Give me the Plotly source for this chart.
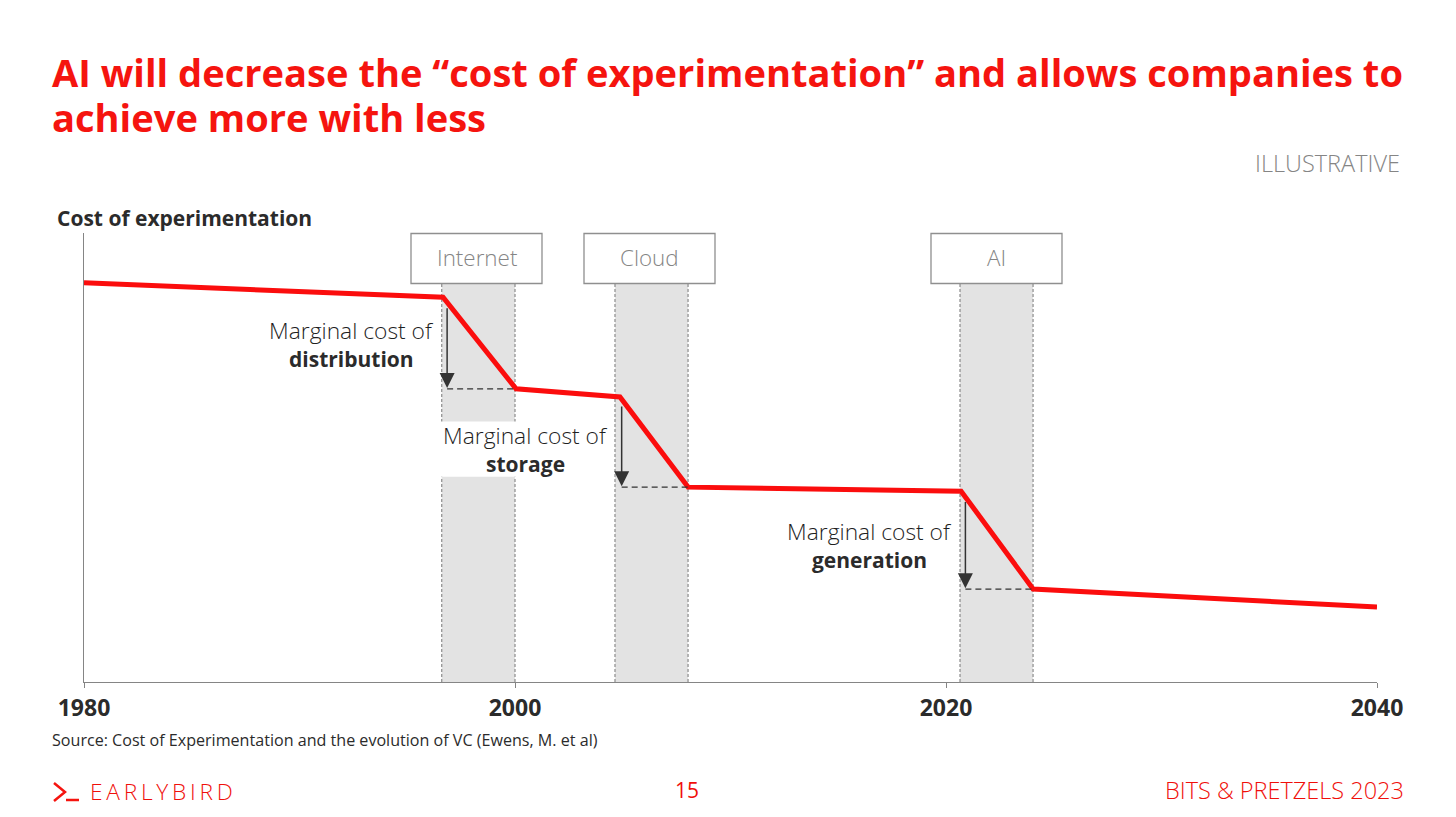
import plotly.graph_objects as go

# --- data ---
years = [1980, 1996.66, 2000.05, 2004.87, 2008.03, 2020.7, 2024.04, 2040]
cost = [88.9, 85.7, 65.3, 63.5, 43.4, 42.5, 20.7, 16.7]
tech_names = ["Internet", "Cloud", "AI"]
band_start = [1996.6, 2004.64, 2020.65]
band_end = [2000.0, 2008.03, 2024.04]
drop_top = [83.6, 61.7, 40.4]
drop_bottom = [65.3, 43.4, 20.7]
drop_x = [1996.85, 2004.95, 2020.9]
tick_years = [1980, 2000, 2020, 2040]
label_first = ["Marginal cost of", "Marginal cost of", "Marginal cost of"]
label_second = ["distribution", "storage", "generation"]

W, H = 1456, 817
L, R, T, B = 84, 1377, 233, 682
RED = "#f5140f"
FONT = "Open Sans"
DARK = "#2b2b2b"
GREY = "#858585"


def fx(p):
    return (p - L) / (R - L)


def fy(p):
    return (B - p) / (B - T)


fig = go.Figure()
shapes = []
annotations = []


def text(s, x, y, size, color=DARK, anchor="left", bold=False, weight=None):
    w = weight if weight else (700 if bold else 400)
    annotations.append(dict(
        text=s, x=fx(x), y=fy(y), xref="paper", yref="paper",
        xanchor=anchor, yanchor="middle", showarrow=False, borderpad=0,
        font=dict(family=FONT, size=size, color=color, weight=w),
    ))


# bands, dashed edges and boxes
BAND_TOP = 88.7
GAP_LOW, GAP_HIGH = 45.7, 58
for i, name in enumerate(tech_names):
    shapes.append(dict(type="rect", xref="x", yref="y", x0=band_start[i], x1=band_end[i],
                       y0=0, y1=BAND_TOP, fillcolor="#e3e3e3", line_width=0, layer="below"))
    for edge in (band_start[i], band_end[i]):
        shapes.append(dict(type="line", xref="x", yref="y", x0=edge, x1=edge, y0=0, y1=BAND_TOP,
                           line=dict(color="#8c8c8c", width=1.2, dash="3px,2px"), layer="below"))

# white gap behind the storage label
shapes.append(dict(type="rect", xref="x", yref="y", x0=1996.2, x1=2000.5,
                   y0=GAP_LOW, y1=GAP_HIGH, fillcolor="white", line_width=0, layer="below"))

box_px = [(411, 542), (584, 715), (931, 1062)]
for (a, b), name in zip(box_px, tech_names):
    shapes.append(dict(type="rect", xref="paper", yref="paper", x0=fx(a), x1=fx(b),
                       y0=fy(283.5), y1=fy(233.5), fillcolor="white",
                       line=dict(color="#8f8f8f", width=1.3)))
    text(name, (a + b) / 2, 257.5, 22.4, color="#858585", anchor="center", weight=300)

# drop arrows + dashed level lines
for i in range(3):
    shapes.append(dict(type="line", xref="x", yref="y", x0=drop_x[i], x1=band_end[i],
                       y0=drop_bottom[i], y1=drop_bottom[i],
                       line=dict(color="#333333", width=1.3, dash="6px,4px")))
    annotations.append(dict(x=drop_x[i], y=drop_bottom[i] + 0.2, ax=drop_x[i], ay=drop_top[i],
                            xref="x", yref="y", axref="x", ayref="y", text="", showarrow=True,
                            arrowhead=2, arrowsize=2.0, arrowwidth=1.5, arrowcolor="#333333"))

fig.add_trace(go.Scatter(x=years, y=cost, mode="lines", hoverinfo="skip",
                         line=dict(color="#fb0d0d", width=5), showlegend=False))

# marginal cost labels
label_pos = [(351, 330, 359), (525, 435, 464), (870, 531, 560)]
for (cx, y1, y2), a, b in zip(label_pos, label_first, label_second):
    text(a, cx, y1, 22.8, color="#1f1f1f", anchor="center", weight=300)
    text(b, cx, y2, 21, color="#2b2b2b", anchor="center", bold=True)

# slide text
text("AI will decrease the “cost of experimentation” and allows companies to", 51, 72, 38.1, RED, bold=True)
text("achieve more with less", 51, 117, 38.1, RED, bold=True)
text("ILLUSTRATIVE", 1400.5, 163, 23.5, "#858585", anchor="right", weight=300)
text("Cost of experimentation", 55.5, 218, 21, DARK, bold=True)
text("Source: Cost of Experimentation and the evolution of VC (Ewens, M. et al)", 51, 739.5, 16.1, DARK)
text("15", 687, 790, 21, "#f00f0a", anchor="center", weight=400)
text("BITS &amp; PRETZELS 2023", 1404.5, 790, 23.5, "#f00f0a", anchor="right", weight=300)
text("E\u2009A\u2009R\u2009L\u2009Y\u2009B\u2009I\u2009R\u2009D", 89, 791, 22.7, "#f00f0a", weight=300)

# logo
shapes.append(dict(type="path", xref="paper", yref="paper",
                   path=f"M {fx(54)} {fy(783)} L {fx(65)} {fy(792)} L {fx(54)} {fy(801)}",
                   line=dict(color=RED, width=2.5)))
shapes.append(dict(type="line", xref="paper", yref="paper", x0=fx(66), x1=fx(79),
                   y0=fy(800), y1=fy(800), line=dict(color=RED, width=2.5)))

fig.update_layout(
    width=W, height=H, autosize=False,
    margin=dict(l=L, r=W - R, t=T, b=H - B, pad=0),
    paper_bgcolor="white", plot_bgcolor="white",
    shapes=shapes, annotations=annotations, showlegend=False,
    xaxis=dict(range=[1980, 2040], tickvals=tick_years, ticktext=[str(t) for t in tick_years],
               showgrid=False, zeroline=False, showline=True, linecolor=GREY, linewidth=1.4,
               ticks="outside", ticklen=5, tickcolor=GREY, tickwidth=1.4,
               tickfont=dict(family=FONT, size=23, color=DARK, weight="bold")),
    yaxis=dict(range=[0, 100], showticklabels=False, ticks="", showgrid=False, zeroline=False,
               showline=True, linecolor=GREY, linewidth=1.4),
)

fig.write_html("out.html", config=dict(displayModeBar=False),
               post_script="document.body.style.margin='0';")
